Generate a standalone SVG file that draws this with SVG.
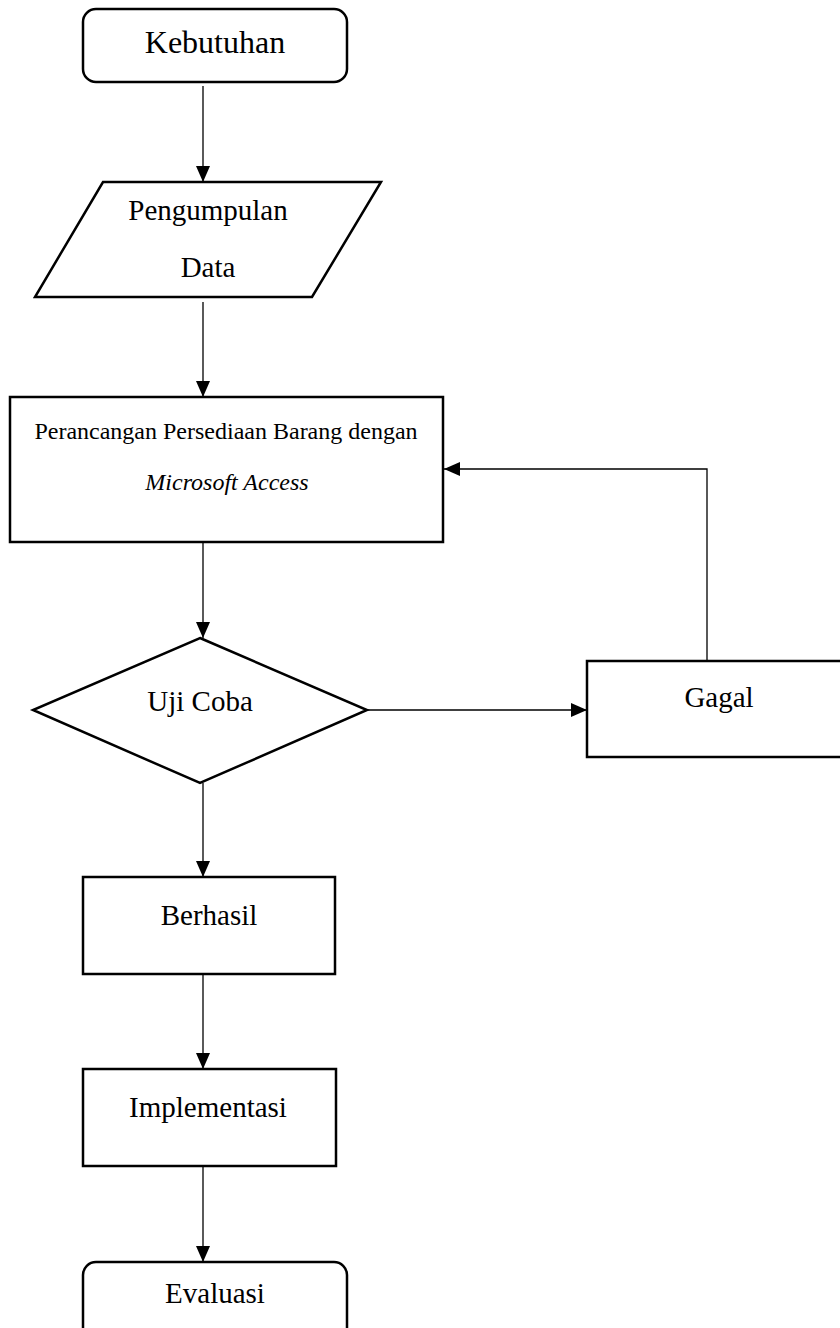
<svg xmlns="http://www.w3.org/2000/svg" width="840" height="1328" viewBox="0 0 840 1328">
  <style>
    .node { fill: #ffffff; stroke: #000000; stroke-width: 2.5; }
    .conn { fill: none; stroke: #000000; stroke-width: 1.3; }
    .lbl { font-family: "Liberation Serif", "Times New Roman", serif; font-size: 29px; fill: #000000; text-anchor: middle; }
    .small { font-size: 24px; }
    .it { font-style: italic; }
  </style>
  <defs>
    <marker id="arrow" markerUnits="userSpaceOnUse" markerWidth="16" markerHeight="16" viewBox="0 0 16 16" refX="16" refY="8" orient="auto">
      <path d="M0,1 L16,8 L0,15 Z" fill="#000000"/>
    </marker>
  </defs>
  <rect width="840" height="1328" fill="#ffffff"/>

  <g id="connectors">
    <line class="conn" x1="203" y1="86" x2="203" y2="182" marker-end="url(#arrow)"/>
    <line class="conn" x1="203" y1="302" x2="203" y2="397" marker-end="url(#arrow)"/>
    <line class="conn" x1="203" y1="543" x2="203" y2="638" marker-end="url(#arrow)"/>
    <line class="conn" x1="367" y1="710" x2="587" y2="710" marker-end="url(#arrow)"/>
    <polyline class="conn" points="707,661 707,469 444,469" marker-end="url(#arrow)"/>
    <line class="conn" x1="203" y1="783" x2="203" y2="877" marker-end="url(#arrow)"/>
    <line class="conn" x1="203" y1="974" x2="203" y2="1069" marker-end="url(#arrow)"/>
    <line class="conn" x1="203" y1="1166" x2="203" y2="1262" marker-end="url(#arrow)"/>
  </g>

  <g id="kebutuhan">
    <rect class="node" x="83" y="9" width="264" height="73" rx="13" ry="13"/>
    <text class="lbl" x="215" y="53" style="font-size:32px">Kebutuhan</text>
  </g>

  <g id="pengumpulan-data">
    <polygon class="node" points="103,182 381,182 312,297 35,297"/>
    <text class="lbl" x="208" y="220">Pengumpulan</text>
    <text class="lbl" x="208" y="277">Data</text>
  </g>

  <g id="perancangan">
    <rect class="node" x="10" y="397" width="433" height="145"/>
    <text class="lbl small" x="226" y="439">Perancangan Persediaan Barang dengan</text>
    <text class="lbl small it" x="227" y="490">Microsoft Access</text>
  </g>

  <g id="uji-coba">
    <polygon class="node" points="200,638 367,710 200,783 33,710"/>
    <text class="lbl" x="200" y="711">Uji Coba</text>
  </g>

  <g id="gagal">
    <rect class="node" x="587" y="661" width="260" height="96"/>
    <text class="lbl" x="719" y="707">Gagal</text>
  </g>

  <g id="berhasil">
    <rect class="node" x="83" y="877" width="252" height="97"/>
    <text class="lbl" x="209" y="925">Berhasil</text>
  </g>

  <g id="implementasi">
    <rect class="node" x="83" y="1069" width="253" height="97"/>
    <text class="lbl" x="208" y="1117">Implementasi</text>
  </g>

  <g id="evaluasi">
    <rect class="node" x="83" y="1262" width="264" height="90" rx="13" ry="13"/>
    <text class="lbl" x="215" y="1303">Evaluasi</text>
  </g>
</svg>
